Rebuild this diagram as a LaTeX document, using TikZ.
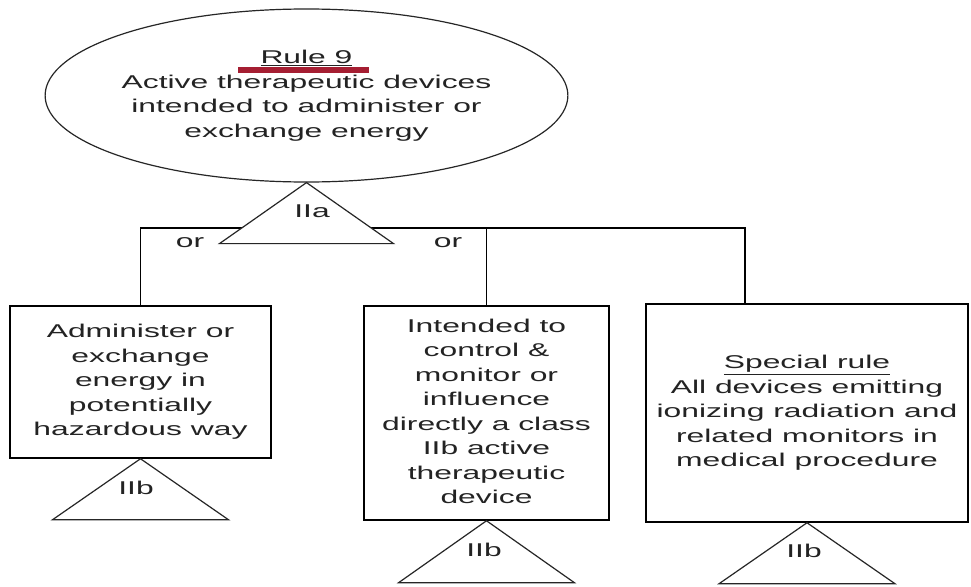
\documentclass[tikz,border=0pt]{standalone}
\usepackage{fontspec}
\usepackage{graphicx}
\setmainfont{Liberation Sans}
\usetikzlibrary{shapes.geometric}
\definecolor{ink}{RGB}{35,35,35}
\definecolor{redbar}{RGB}{165,30,50}
\newcommand\wtxt[1]{\scalebox{1.72}[1]{\begin{tabular}{@{}c@{}}#1\end{tabular}}}
\tikzset{
  txt/.style={font=\fontsize{18.5}{24.5}\selectfont, text=ink, inner sep=0pt},
  boxnode/.style={txt, draw=black, line width=1.5pt, rectangle, fill=white},
  ovalnode/.style={txt, draw=black!85, line width=1.2pt, ellipse},
  tri/.style={draw=black!85, line width=1.2pt, fill=white, line join=miter},
  conn/.style={draw=black, line width=1.5pt},
}
\begin{document}
\begin{tikzpicture}[x=1pt,y=-1pt]
\useasboundingbox (0,0) rectangle (971,586);
\fill[white] (0,0) rectangle (971,586);

% top ellipse
\node[ovalnode, minimum width=443, minimum height=173] (rule) at (306.5,95.5)
  {\wtxt{\underline{Rule 9}\\Active therapeutic devices\\intended to administer or\\exchange energy}};
\fill[redbar] (238,67) rectangle (369,73);

% boxes
\node[boxnode, minimum width=261, minimum height=152] (lbox) at (140.5,382)
  {\wtxt{Administer or\\exchange\\energy in\\potentially\\hazardous way}};
\node[boxnode, minimum width=245, minimum height=214] (mbox) at (486.5,413)
  {\wtxt{Intended to\\control \&\\monitor or\\influence\\directly a class\\IIb active\\therapeutic\\device}};
\node[boxnode, minimum width=322, minimum height=218] (rbox) at (807,413)
  {\wtxt{\underline{Special rule}\\All devices emitting\\ionizing radiation and\\related monitors in\\medical procedure}};

% connectors
\coordinate (join) at (745,228);
\draw[conn] (lbox.north) |- (join) -- (join |- rbox.north);
\draw[conn] (mbox.north) -- (mbox.north |- join);

% triangles
\draw[tri] (rule.south) -- ++(87,61) -- ++(-174,0) -- cycle;
\node[txt] (cIIa) at (312,213) {\wtxt{IIa}};
\node[txt] (or1) at (190,243) {\wtxt{or}};
\node[txt] (or2) at (448,243) {\wtxt{or}};

\draw[tri] (lbox.south) -- ++(88,61) -- ++(-176,0) -- cycle;
\node[txt] (cIIb1) at (136,490) {\wtxt{IIb}};
\draw[tri] (mbox.south) -- ++(88,62) -- ++(-176,0) -- cycle;
\node[txt] (cIIb2) at (484,552) {\wtxt{IIb}};
\draw[tri] (rbox.south) -- ++(88,61) -- ++(-176,0) -- cycle;
\node[txt] (cIIb3) at (804,553) {\wtxt{IIb}};
\end{tikzpicture}
\end{document}
